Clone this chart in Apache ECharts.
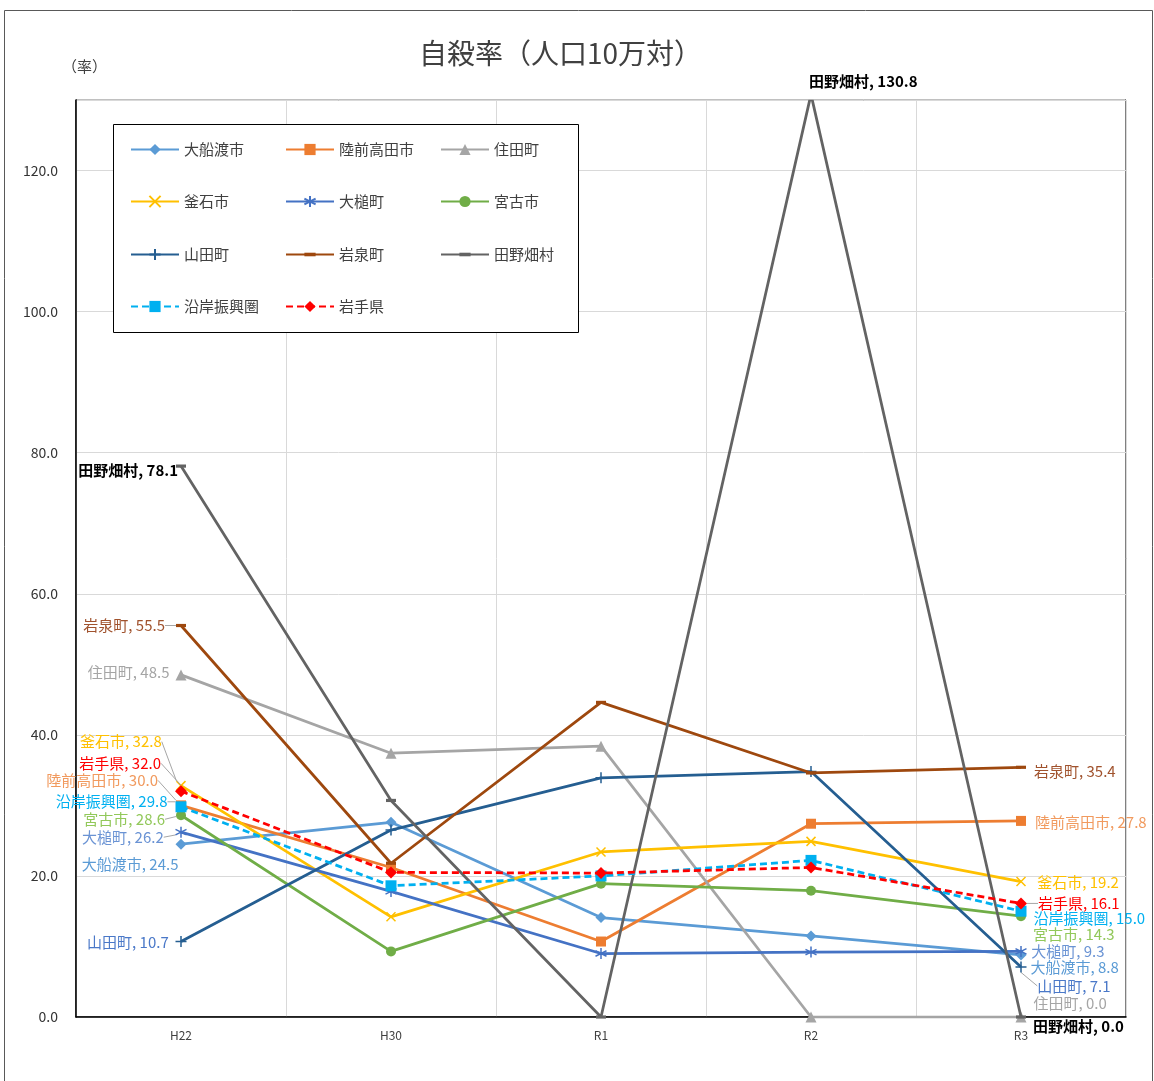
<!DOCTYPE html>
<html><head><meta charset="utf-8">
<script src="https://cdn.jsdelivr.net/npm/echarts@6/dist/echarts.min.js"></script>
<style>html,body{margin:0;padding:0;background:#fff}#c{width:1154px;height:1081px}</style>
</head><body><div id="c"></div>
<script>
// ---- data ----
const categories = ['H22', 'H30', 'R1', 'R2', 'R3'];
const yTicks = [0, 20, 40, 60, 80, 100, 120];
const seriesNames = ['大船渡市', '陸前高田市', '住田町', '釜石市', '大槌町', '宮古市', '山田町', '岩泉町', '田野畑村', '沿岸振興圏', '岩手県'];
const ofunato       = [24.5, 27.6, 14.1, 11.5, 8.8];
const rikuzentakata = [30.0, 21.2, 10.7, 27.4, 27.8];
const sumita        = [48.5, 37.4, 38.4, 0.0, 0.0];
const kamaishi      = [32.8, 14.2, 23.4, 24.9, 19.2];
const otsuchi       = [26.2, 17.8, 9.0, 9.2, 9.3];
const miyako        = [28.6, 9.3, 18.9, 17.9, 14.3];
const yamada        = [10.7, 26.5, 33.9, 34.8, 7.1];
const iwaizumi      = [55.5, 21.8, 44.6, 34.6, 35.4];
const tanohata      = [78.1, 30.7, 0.0, 130.8, 0.0];
const engan         = [29.8, 18.6, 20.0, 22.2, 15.0];
const iwate         = [32.0, 20.5, 20.4, 21.2, 16.1];
const allValues = [ofunato, rikuzentakata, sumita, kamaishi, otsuchi, miyako, yamada, iwaizumi, tanohata, engan, iwate];

// ---- styles ----
const FONT = '"Noto Sans CJK JP", "Noto Sans", sans-serif';
const P_X = 'path://M0,0 L10,10 M10,0 L0,10';
const P_STAR = 'path://M5,0 L5,10 M0.7,2.5 L9.3,7.5 M0.7,7.5 L9.3,2.5';
const P_PLUS = 'path://M5,0 L5,10 M0,5 L10,5';
const P_DASH = 'path://M0,0 M10,10 M0,3.4 L10,3.4 L10,6.6 L0,6.6 Z';
const styles = [
  {color: '#5B9BD5', label: '#5B9BD5', symbol: 'diamond', size: 11},
  {color: '#ED7D31', label: '#F19A5E', symbol: 'rect', size: 10},
  {color: '#A5A5A5', label: '#A5A5A5', symbol: 'triangle', size: 11},
  {color: '#FFC000', label: '#FFC000', symbol: P_X, size: 9, stroke: true},
  {color: '#4472C4', label: '#6A93D4', symbol: P_STAR, size: 11, stroke: true},
  {color: '#70AD47', label: '#92C85A', symbol: 'circle', size: 10},
  {color: '#255E91', label: '#4A78C8', symbol: P_PLUS, size: 11, stroke: true},
  {color: '#9E480E', label: '#A0522D', symbol: P_DASH, size: 10},
  {color: '#636363', label: '#000000', symbol: P_DASH, size: 10, bold: true, noClip: true},
  {color: '#00B0F0', label: '#00B0F0', symbol: 'rect', size: 11, dashed: true},
  {color: '#FF0000', label: '#FF0000', symbol: 'diamond', size: 12, dashed: true}
];
// label placement: [side, dx, dy, leader] per labelled point index
const labelPos = [
  {0: ['left', 3, 20], 4: ['right', 4, 12]},
  {0: ['left', -18, -25, true], 4: ['right', 9, 1]},
  {0: ['left', -6, -3], 4: ['right', 7, -14]},
  {0: ['left', -14, -44, true], 4: ['right', 11, 1]},
  {0: ['left', -11, 5, true], 4: ['right', 4, 0]},
  {0: ['left', -11, 4, true], 4: ['right', 7, 18]},
  {0: ['left', -6, 1], 4: ['right', 10, 19, true]},
  {0: ['left', -11, 0, true], 4: ['right', 8, 4]},
  {0: ['left', 2, 4], 3: ['right', -7, -13], 4: ['right', 7, 9]},
  {0: ['left', -8, -5, true], 4: ['right', 7, 7]},
  {0: ['left', -14, -28, true], 4: ['right', 11, 0, true]}
];

const series = seriesNames.map((name, si) => {
  const st = styles[si];
  const data = allValues[si].map((v, i) => {
    const lp = labelPos[si][i];
    if (!lp) return v;
    return {
      value: v,
      label: {
        show: true, position: lp[0], distance: 0,
        formatter: p => p.seriesName + ', ' + Number(p.value).toFixed(1),
        color: st.label, fontSize: 15, fontFamily: FONT,
        fontWeight: st.bold ? 'bold' : 'normal'
      },
      labelLine: {show: !!lp[3], lineStyle: {color: '#A6A6A6', width: 1}}
    };
  });
  return {
    name, type: 'line', data,
    symbol: st.symbol, symbolSize: st.size, showAllSymbol: true,
    clip: !st.noClip,
    lineStyle: {color: st.color, width: 2.75, type: st.dashed ? [7, 4] : 'solid'},
    itemStyle: st.stroke ? {color: st.color, borderColor: st.color, borderWidth: 1.5} : {color: st.color},
    labelLayout: params => {
      const lp = labelPos[si][params.dataIndex];
      return lp ? {dx: lp[1], dy: lp[2]} : {};
    },
    emphasis: {disabled: true},
    animation: false,
    z: 2 + si
  };
});

const legendTops = [142, 194, 247, 299];
const legends = seriesNames.map((name, i) => ({
  data: [name],
  left: 130 + (i % 3) * 155, top: legendTops[Math.floor(i / 3)], orient: 'horizontal',
  padding: 0, itemWidth: 48, itemHeight: 14, itemGap: 0, z: 20,
  textStyle: {fontSize: 15, color: '#404040', fontFamily: FONT},
  selectedMode: false
}));

const chart = echarts.init(document.getElementById('c'));
chart.setOption({
  animation: false,
  backgroundColor: '#fff',
  title: {
    text: '自殺率（人口10万対）', left: 414, top: 34,
    textStyle: {fontSize: 28, fontWeight: 'normal', color: '#404040', fontFamily: FONT}
  },
  legend: legends,
  grid: {left: 76, right: 28, top: 100, bottom: 64, show: true, borderColor: '#000', borderWidth: 1, containLabel: false},
  xAxis: {
    type: 'category', data: categories, boundaryGap: true,
    axisLine: {lineStyle: {color: '#000', width: 1.5}},
    axisTick: {show: false},
    axisLabel: {color: '#404040', fontSize: 12, margin: 12, fontFamily: FONT},
    splitLine: {show: true, lineStyle: {color: '#D9D9D9', width: 1}}
  },
  yAxis: {
    type: 'value', min: yTicks[0], max: 130, interval: 20,
    axisLine: {show: true, lineStyle: {color: '#000', width: 1.5}},
    axisTick: {show: false},
    axisLabel: {color: '#333', fontSize: 14, margin: 18, fontFamily: FONT, showMaxLabel: false,
      formatter: v => v.toFixed(1)},
    splitLine: {show: true, lineStyle: {color: '#D9D9D9', width: 1}}
  },
  graphic: [
    {type: 'rect', shape: {x: 4.5, y: 10.5, width: 1148, height: 1080}, style: {fill: 'none', stroke: '#595959', lineWidth: 1}, silent: true, z: -10},
    {type: 'rect', shape: {x: 77, y: 90.5, width: 1048, height: 9}, style: {fill: '#fff'}, silent: true, z: 40},
    {type: 'rect', shape: {x: 113.5, y: 124.5, width: 465, height: 208}, style: {fill: '#fff', stroke: '#000', lineWidth: 1}, silent: true, z: 1},
    {type: 'text', left: 62, top: 59, style: {text: '（率）', fontSize: 15, fill: '#404040', fontFamily: FONT}, silent: true}
  ],
  series
});
</script></body></html>
